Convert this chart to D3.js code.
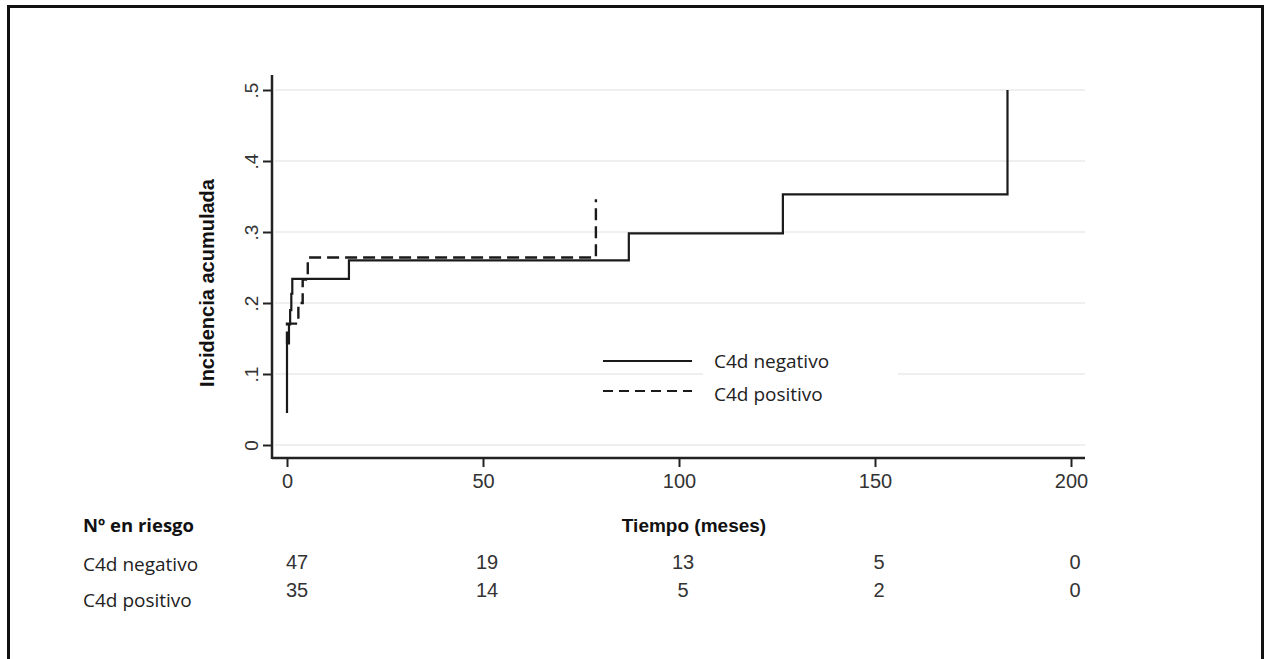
<!DOCTYPE html>
<html>
<head>
<meta charset="utf-8">
<script src="https://cdn.jsdelivr.net/npm/d3@7"></script>
<style>
  body { margin: 0; background: #fff; }
  svg { display: block; }
</style>
</head>
<body>
<svg id="chart"></svg>
<script>
var svg_width = 1272;
var svg_height = 659;

// DATA
var negTime = [0, 0, 0.5, 0.8, 1.1, 1.35, 15.8, 87.2, 126.5, 183.8];
var negInc  = [0.045, 0.143, 0.17, 0.19, 0.213, 0.234, 0.26, 0.298, 0.353, 0.5];
var posTime = [0, 0, 2.9, 4.0, 5.3, 78.8];
var posInc  = [0.143, 0.171, 0.2, 0.233, 0.264, 0.346];

var xTicks = [0, 50, 100, 150, 200];
var yTicks = [0, 0.1, 0.2, 0.3, 0.4, 0.5];
var yTickLabels = ["0", ".1", ".2", ".3", ".4", ".5"];

var groups = ["C4d negativo", "C4d positivo"];
var riskNeg = [47, 19, 13, 5, 0];
var riskPos = [35, 14, 5, 2, 0];

var negData = negTime.map(function(t, i) { return [t, negInc[i]]; });
var posData = posTime.map(function(t, i) { return [t, posInc[i]]; });

// SCALES
var xScale = d3.scaleLinear().domain([0, 200]).range([287, 1071]);
var yScale = d3.scaleLinear().domain([0, 0.5]).range([445, 90]);

var plotLeft = 272, plotRight = 1085, plotTop = 75, plotBottom = 458;

var svg = d3.select("#chart")
    .attr("width", svg_width)
    .attr("height", svg_height);

// outer frame
svg.append("rect")
    .attr("x", 8.5).attr("y", 6.5)
    .attr("width", 1254).attr("height", 700)
    .attr("fill", "none")
    .attr("stroke", "#111")
    .attr("stroke-width", 3);

// GRID
svg.append("g")
  .selectAll("line")
  .data(yTicks)
  .enter()
  .append("line")
    .attr("x1", plotLeft + 3)
    .attr("x2", plotRight)
    .attr("y1", function(d) { return yScale(d); })
    .attr("y2", function(d) { return yScale(d); })
    .attr("stroke", "#eaeaea")
    .attr("stroke-width", 1.5);

// AXES
var yAxis = d3.axisLeft(yScale)
    .tickValues(yTicks)
    .tickSize(9)
    .tickSizeOuter(0)
    .tickFormat(function(d, i) { return yTickLabels[i]; });
var yG = svg.append("g")
    .attr("transform", "translate(" + plotLeft + ",0)")
    .call(yAxis);
yG.select(".domain").remove();
yG.selectAll(".tick line").attr("stroke", "#222").attr("stroke-width", 2);
yG.selectAll(".tick text")
    .attr("x", null).attr("dy", null)
    .attr("transform", "translate(-14,0) rotate(-90)")
    .attr("text-anchor", "middle")
    .attr("font-family", "Liberation Sans, Arial, sans-serif")
    .attr("font-size", 19)
    .attr("fill", "#333");

var xAxis = d3.axisBottom(xScale)
    .tickValues(xTicks)
    .tickSize(9)
    .tickSizeOuter(0);
var xG = svg.append("g")
    .attr("transform", "translate(0," + plotBottom + ")")
    .call(xAxis);
xG.select(".domain").remove();
xG.selectAll(".tick line").attr("stroke", "#222").attr("stroke-width", 2);
xG.selectAll(".tick text")
    .attr("y", 30).attr("dy", null)
    .attr("font-family", "Liberation Sans, Arial, sans-serif")
    .attr("font-size", 20)
    .attr("fill", "#333");

svg.append("line")
    .attr("x1", plotLeft).attr("x2", plotLeft)
    .attr("y1", plotTop).attr("y2", plotBottom + 1)
    .attr("stroke", "#222").attr("stroke-width", 2.5);
svg.append("line")
    .attr("x1", plotLeft).attr("x2", plotRight)
    .attr("y1", plotBottom).attr("y2", plotBottom)
    .attr("stroke", "#222").attr("stroke-width", 2.5);

// AXIS TITLES
svg.append("text")
    .attr("transform", "translate(214," + 283 + ") rotate(-90)")
    .attr("text-anchor", "middle")
    .attr("font-family", "Liberation Sans, Arial, sans-serif")
    .attr("font-weight", "bold")
    .attr("font-size", 20)
    .attr("fill", "#111")
    .text("Incidencia acumulada");

svg.append("text")
    .attr("x", 694).attr("y", 532)
    .attr("text-anchor", "middle")
    .attr("font-family", "Liberation Sans Narrow, Liberation Sans, Arial, sans-serif")
    .attr("font-weight", "bold")
    .attr("font-size", 19)
    .attr("fill", "#111")
    .text("Tiempo (meses)");

// CURVES
var line = d3.line()
    .x(function(d) { return xScale(d[0]); })
    .y(function(d) { return yScale(d[1]); })
    .curve(d3.curveStepAfter);

svg.append("path")
    .datum(negData)
    .attr("d", line)
    .attr("fill", "none")
    .attr("stroke", "#1a1a1a")
    .attr("stroke-width", 2.2);

svg.append("path")
    .datum(posData)
    .attr("d", line)
    .attr("fill", "none")
    .attr("stroke", "#1a1a1a")
    .attr("stroke-width", 2.4)
    .attr("stroke-dasharray", "12,6");

// LEGEND
svg.append("rect")
    .attr("x", 703).attr("y", 340)
    .attr("width", 195).attr("height", 70)
    .attr("fill", "#fff");

var legend = svg.append("g");
legend.selectAll("line")
    .data(groups)
    .enter()
    .append("line")
      .attr("x1", 603).attr("x2", 692)
      .attr("y1", function(d, i) { return 361 + i * 30; })
      .attr("y2", function(d, i) { return 361 + i * 30; })
      .attr("stroke", "#1a1a1a")
      .attr("stroke-width", 2)
      .attr("stroke-dasharray", function(d, i) { return i ? "10,6" : null; });
legend.selectAll("text")
    .data(groups)
    .enter()
    .append("text")
      .attr("x", 714)
      .attr("y", function(d, i) { return 368 + i * 33; })
      .attr("font-family", "Open Sans, sans-serif")
      .attr("font-size", 19)
      .attr("fill", "#222")
      .text(function(d) { return d; });

// RISK TABLE
svg.append("text")
    .attr("x", 83).attr("y", 532)
    .attr("font-family", "Open Sans, sans-serif")
    .attr("font-weight", "bold")
    .attr("font-size", 18.5)
    .attr("fill", "#111")
    .text("N\u00BA en riesgo");

svg.append("g")
  .selectAll("text")
  .data(groups)
  .enter()
  .append("text")
    .attr("x", 83)
    .attr("y", function(d, i) { return 571 + i * 36; })
    .attr("font-family", "Open Sans, sans-serif")
    .attr("font-size", 19)
    .attr("fill", "#222")
    .text(function(d) { return d; });

[riskNeg, riskPos].forEach(function(row, r) {
  svg.append("g")
    .selectAll("text")
    .data(row)
    .enter()
    .append("text")
      .attr("x", function(d, i) { return xScale(xTicks[i]) + (i === 0 ? 10 : 4); })
      .attr("y", function() { return 569 + r * 28; })
      .attr("text-anchor", "middle")
      .attr("font-family", "Liberation Sans, Arial, sans-serif")
      .attr("font-size", 20)
      .attr("fill", "#333")
      .text(function(d) { return d; });
});
</script>
</body>
</html>
